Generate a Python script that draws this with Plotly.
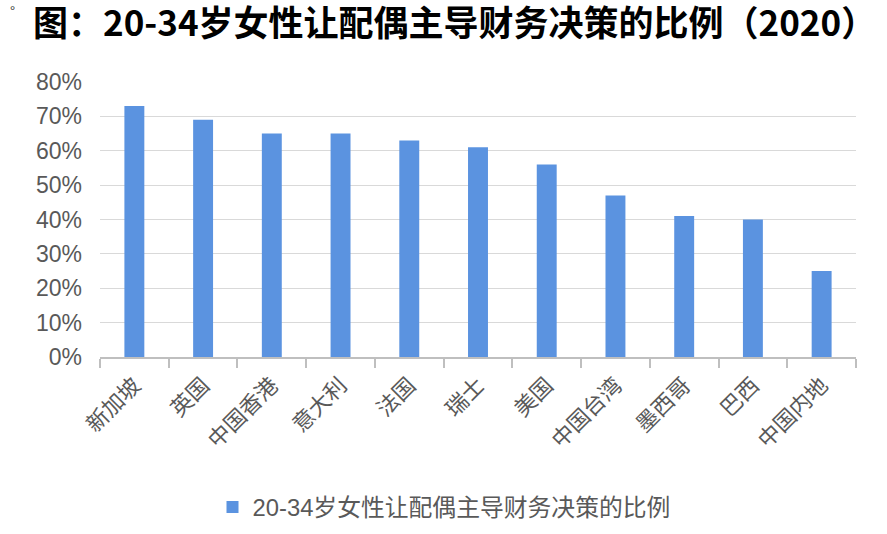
import plotly.graph_objects as go

categories = ["新加坡", "英国", "中国香港", "意大利", "法国", "瑞士", "美国", "中国台湾", "墨西哥", "巴西", "中国内地"]
values = [0.73, 0.69, 0.65, 0.65, 0.63, 0.61, 0.56, 0.47, 0.41, 0.40, 0.25]
series_name = "20-34岁女性让配偶主导财务决策的比例"
title_text = "图：20-34岁女性让配偶主导财务决策的比例（2020）"
y_ticks = [0, 0.1, 0.2, 0.3, 0.4, 0.5, 0.6, 0.7, 0.8]
y_tick_labels = ["0%", "10%", "20%", "30%", "40%", "50%", "60%", "70%", "80%"]

BAR = "#5b93e0"
GRAY = "#595959"
font_main = "Liberation Sans, Arial, Noto Sans CJK SC, sans-serif"
font_cjk = "Noto Sans CJK SC, sans-serif"

W, H = 887, 534
L, R, T, B = 100, 31, 82, 177

fig = go.Figure()
fig.add_trace(go.Bar(x=categories, y=values, name=series_name, marker_color=BAR,
                     marker_line_width=0))

fig.update_layout(
    width=W, height=H,
    paper_bgcolor="white", plot_bgcolor="white",
    margin=dict(l=L, r=R, t=T, b=B, autoexpand=False),
    bargap=0.71,
    showlegend=True,
    legend=dict(orientation="h", xref="container", yref="container",
                x=444 / W, y=1 - 507 / H, xanchor="center", yanchor="middle",
                font=dict(family=font_main, size=23.8, color=GRAY),
                itemwidth=30),
    title=dict(text="<b>" + title_text + "</b>", x=33 / W, xanchor="left",
               xref="container", y=1 - 24 / H, yanchor="middle", yref="container",
               font=dict(family=font_cjk, size=35, color="#000000")),
)

fig.update_yaxes(range=[0, 0.8], tickvals=y_ticks, ticktext=y_tick_labels,
                 showgrid=True, gridcolor="#d9d9d9", gridwidth=1,
                 zeroline=False, showline=False, automargin=False,
                 tickfont=dict(family=font_main, size=23, color=GRAY),
                 ticks="", ticklabelstandoff=17)
fig.update_xaxes(tickangle=-45, tickson="boundaries", ticks="outside",
                 ticklen=9, tickcolor="#bfbfbf", tickwidth=1.5, showline=True,
                 linecolor="#bfbfbf", linewidth=1.5, automargin=False,
                 ticklabelstandoff=5,
                 tickfont=dict(family=font_cjk, size=22, color=GRAY))

fig.add_annotation(text="°", xref="paper", yref="paper",
                   x=(12 - L) / (W - L - R), y=1 + (T - 10) / (H - T - B),
                   xanchor="center", yanchor="middle", showarrow=False,
                   font=dict(size=12, color="#333333"))

fig.write_html("out.html", config={"displayModeBar": False},
               post_script="document.body.style.margin='0px';")
